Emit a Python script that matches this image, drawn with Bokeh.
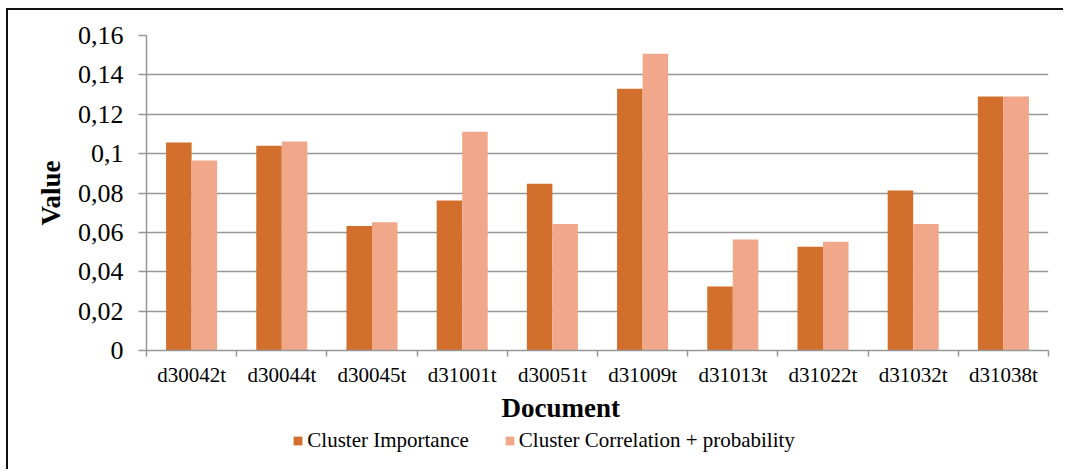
import numpy as np
from bokeh.plotting import figure
from bokeh.layouts import column
from bokeh.models import (Range1d, FixedTicker, CustomJSTickFormatter, Legend,
                          LegendItem, Title)
from bokeh.embed import file_html
from bokeh.resources import INLINE

documents = ["d30042t", "d30044t", "d30045t", "d31001t", "d30051t",
             "d31009t", "d31013t", "d31022t", "d31032t", "d31038t"]
cluster_importance = [0.1057, 0.1040, 0.0633, 0.0762, 0.0847,
                      0.1329, 0.0325, 0.0527, 0.0813, 0.1290]
cluster_correlation = [0.0965, 0.1062, 0.0652, 0.1111, 0.0643,
                       0.1507, 0.0564, 0.0552, 0.0643, 0.1290]
y_ticks = [0.0, 0.02, 0.04, 0.06, 0.08, 0.10, 0.12, 0.14, 0.16]
y_tick_labels = ["0", "0,02", "0,04", "0,06", "0,08", "0,1", "0,12", "0,14", "0,16"]
series_names = ["Cluster Importance", "Cluster Correlation + probability"]
colors = ["#D26F2C", "#F1A88A"]

FONT = "Liberation Serif"
GRID = "#979797"

n = len(documents)
centers = np.arange(n) + 0.5
boundaries = list(np.arange(n + 1).astype(float))
bar_w = 0.283

W = 1057
p = figure(width=W, height=415, output_backend="svg", toolbar_location=None,
           x_range=Range1d(0, n), y_range=Range1d(0, y_ticks[-1]),
           min_border_left=138, min_border_top=25, min_border_right=17,
           min_border_bottom=75)
p.outline_line_color = None
p.background_fill_color = "white"
p.border_fill_color = "white"

r1 = p.vbar(x=centers - bar_w / 2, top=cluster_importance, width=bar_w,
            fill_color=colors[0], line_color=None)
r2 = p.vbar(x=centers + bar_w / 2, top=cluster_correlation, width=bar_w,
            fill_color=colors[1], line_color=None)

# y axis
p.yaxis.ticker = FixedTicker(ticks=y_ticks)
p.yaxis.formatter = CustomJSTickFormatter(args=dict(labels=y_tick_labels),
                                          code="return labels[index];")
p.yaxis.axis_label = "Value"
p.yaxis.axis_label_text_font = FONT
p.yaxis.axis_label_text_font_style = "bold"
p.yaxis.axis_label_text_font_size = "27px"
p.yaxis.axis_label_text_color = "black"
p.yaxis.axis_label_standoff = 9
p.yaxis.major_label_text_font = FONT
p.yaxis.major_label_text_font_size = "26px"
p.yaxis.major_label_text_color = "black"
p.yaxis.major_label_standoff = 15
p.yaxis.axis_line_color = GRID
p.yaxis.axis_line_width = 1.5
p.yaxis.major_tick_line_color = GRID
p.yaxis.major_tick_line_width = 1.5
p.yaxis.major_tick_out = 8
p.yaxis.major_tick_in = 0
p.yaxis.minor_tick_line_color = None

# x axis
p.xaxis.ticker = FixedTicker(ticks=list(centers), minor_ticks=boundaries)
p.xaxis.formatter = CustomJSTickFormatter(args=dict(labels=documents),
                                          code="return labels[index];")
p.xaxis.major_label_text_font = FONT
p.xaxis.major_label_text_font_size = "21px"
p.xaxis.major_label_text_color = "black"
p.xaxis.major_label_standoff = 6
p.xaxis.major_tick_out = 0
p.xaxis.major_tick_in = 0
p.xaxis.major_tick_line_color = None
p.xaxis.minor_tick_out = 6
p.xaxis.minor_tick_in = 0
p.xaxis.minor_tick_line_color = GRID
p.xaxis.minor_tick_line_width = 1.5
p.xaxis.axis_line_color = GRID
p.xaxis.axis_line_width = 1.5

p.xgrid.visible = False
p.ygrid.grid_line_color = GRID
p.ygrid.grid_line_width = 1.5

title = Title(text="Document", align="left", offset=355,
              text_font=FONT, text_font_style="bold", text_font_size="27px",
              text_color="black", standoff=3)
p.add_layout(title, "below")

# legend strip under the chart (its bars lie outside its own range, so only
# the legend shows)
p2 = figure(width=W, height=46, output_backend="svg", toolbar_location=None,
            x_range=Range1d(0, n), y_range=Range1d(10, 11),
            x_axis_location=None, y_axis_location=None,
            min_border_left=0, min_border_right=0, min_border_top=0,
            min_border_bottom=0)
p2.outline_line_color = None
p2.xgrid.visible = False
p2.ygrid.visible = False
p2.border_fill_color = "white"
l1 = p2.vbar(x=centers - bar_w / 2, top=cluster_importance, width=bar_w,
             fill_color=colors[0], line_color=None)
l2 = p2.vbar(x=centers + bar_w / 2, top=cluster_correlation, width=bar_w,
             fill_color=colors[1], line_color=None)

legend = Legend(items=[LegendItem(label=series_names[0], renderers=[l1]),
                       LegendItem(label=series_names[1], renderers=[l2])],
                orientation="horizontal", location=(146.3, 18.5),
                label_text_font=FONT, label_text_font_size="21px",
                label_text_color="black", label_height=20,
                glyph_width=11, glyph_height=11, label_standoff=4,
                spacing=35, padding=0, margin=0,
                border_line_color=None, background_fill_alpha=0)
p2.add_layout(legend)

layout = column(p, p2, spacing=0, margin=(10, 0, 0, 8))
layout.styles = {"box-shadow": "-2px -2px 0 0 #111111"}

open("out.html", "w").write(file_html(layout, INLINE))
